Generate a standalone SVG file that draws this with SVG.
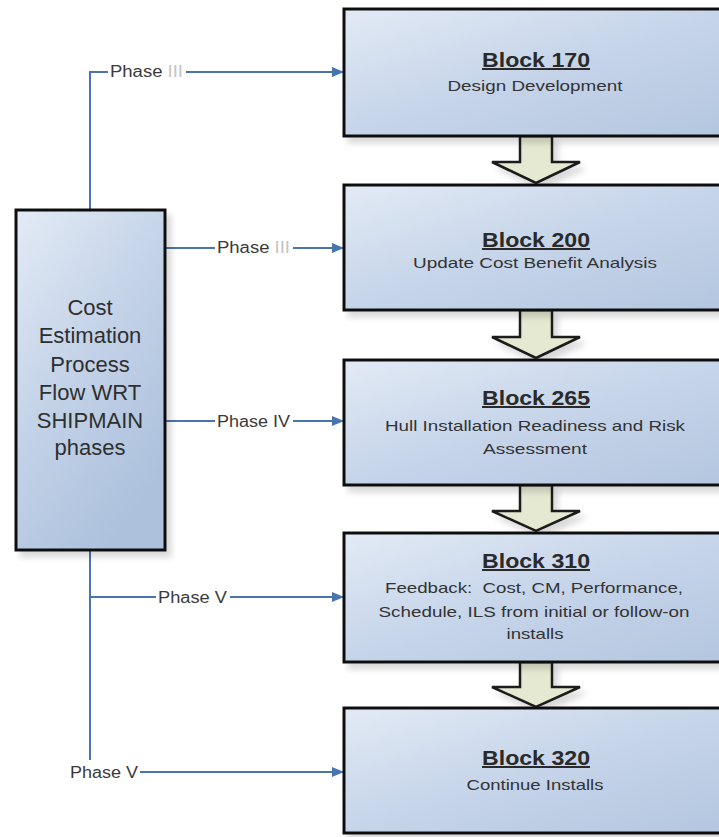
<svg xmlns="http://www.w3.org/2000/svg" width="719" height="837" viewBox="0 0 719 837">
<defs>
<linearGradient id="boxGrad" x1="0" y1="0" x2="1" y2="1">
<stop offset="0" stop-color="#e2eaf5"/>
<stop offset="0.5" stop-color="#c5d4e9"/>
<stop offset="1" stop-color="#b3c5df"/>
</linearGradient>
<linearGradient id="leftGrad" x1="0" y1="0" x2="0.6" y2="1">
<stop offset="0" stop-color="#e3ebf6"/>
<stop offset="0.5" stop-color="#c4d3e8"/>
<stop offset="1" stop-color="#adc1dd"/>
</linearGradient>
<filter id="shadow" x="-10%" y="-10%" width="130%" height="140%">
<feGaussianBlur in="SourceAlpha" stdDeviation="3"/>
<feOffset dx="5" dy="6" result="b"/>
<feComponentTransfer><feFuncA type="linear" slope="0.15"/></feComponentTransfer>
<feMerge><feMergeNode/><feMergeNode in="SourceGraphic"/></feMerge>
</filter>
<marker id="arr" viewBox="0 0 12 10" refX="12" refY="5" markerWidth="12" markerHeight="10" markerUnits="userSpaceOnUse" orient="auto">
<path d="M0,0 L12,5 L0,10 Z" fill="#4a74ad"/>
</marker>
</defs>
<style>
.box{fill:url(#boxGrad);stroke:#111;stroke-width:3;filter:url(#shadow)}
.lbox{fill:url(#leftGrad);stroke:#111;stroke-width:3;filter:url(#shadow)}
.title{font-family:"Liberation Sans",Arial,sans-serif;font-weight:bold;font-size:20px;fill:#2a2a2a;text-anchor:middle;text-decoration:underline}
.sub{font-family:"Liberation Sans",Arial,sans-serif;font-size:15px;fill:#333;text-anchor:middle}
.left{font-family:"Liberation Sans",Arial,sans-serif;font-size:22px;fill:#2f2f2f;text-anchor:middle}
.conn{fill:none;stroke:#4a74ad;stroke-width:2}
.lbl{font-family:"Liberation Sans",Arial,sans-serif;font-size:16px;fill:#3a3a3a}
.faint{fill:#c4c4c4}
.bg{fill:#ffffff}
.barrow{fill:#e6e9d2;stroke:#1a1a1a;stroke-width:2.5;stroke-linejoin:miter;filter:url(#shadow)}
</style>
<rect width="719" height="837" fill="#ffffff"/>

<g id="connectors">
<path class="conn" d="M90,210 V72 H344" marker-end="url(#arr)"/>
<path class="conn" d="M165,248 H344" marker-end="url(#arr)"/>
<path class="conn" d="M165,421 H344" marker-end="url(#arr)"/>
<path class="conn" d="M90,550 V760"/>
<path class="conn" d="M90,597 H344" marker-end="url(#arr)"/>
<path class="conn" d="M140,772 H344" marker-end="url(#arr)"/>
<rect class="bg" x="108" y="62" width="78" height="18"/>
<text class="lbl" x="110" y="77" textLength="73" lengthAdjust="spacingAndGlyphs">Phase <tspan class="faint">III</tspan></text>
<rect class="bg" x="215" y="238" width="78" height="18"/>
<text class="lbl" x="217" y="253" textLength="73" lengthAdjust="spacingAndGlyphs">Phase <tspan class="faint">III</tspan></text>
<rect class="bg" x="215" y="411" width="78" height="18"/>
<text class="lbl" x="217" y="427" textLength="73" lengthAdjust="spacingAndGlyphs">Phase IV</text>
<rect class="bg" x="156" y="587" width="74" height="18"/>
<text class="lbl" x="158" y="603" textLength="69" lengthAdjust="spacingAndGlyphs">Phase V</text>
<text class="lbl" x="70" y="778" textLength="68" lengthAdjust="spacingAndGlyphs">Phase V</text>
</g>

<g id="flow-arrows">
<path class="barrow" d="M520,136 V162 H492 L536,183 L580,162 H552 V136 Z"/>
<path class="barrow" d="M520,310 V337 H492 L536,358 L580,337 H552 V310 Z"/>
<path class="barrow" d="M520,485 V511 H492 L536,531 L580,511 H552 V485 Z"/>
<path class="barrow" d="M520,662 V687 H492 L536,707 L580,687 H552 V662 Z"/>
</g>

<g id="cost-estimation">
<rect class="lbox" x="16" y="210" width="149" height="340"/>
<text class="left" x="90" y="315">Cost</text>
<text class="left" x="90" y="343">Estimation</text>
<text class="left" x="90" y="372">Process</text>
<text class="left" x="90" y="400">Flow WRT</text>
<text class="left" x="90" y="428">SHIPMAIN</text>
<text class="left" x="90" y="455">phases</text>
</g>

<g id="block-170">
<rect class="box" x="344" y="9" width="400" height="127"/>
<text class="title" x="536" y="67" textLength="108" lengthAdjust="spacingAndGlyphs">Block 170</text>
<text class="sub" x="535" y="91" textLength="175" lengthAdjust="spacingAndGlyphs">Design Development</text>
</g>

<g id="block-200">
<rect class="box" x="344" y="185" width="400" height="125"/>
<text class="title" x="536" y="247" textLength="108" lengthAdjust="spacingAndGlyphs">Block 200</text>
<text class="sub" x="535" y="268" textLength="244" lengthAdjust="spacingAndGlyphs">Update Cost Benefit Analysis</text>
</g>

<g id="block-265">
<rect class="box" x="344" y="360" width="400" height="125"/>
<text class="title" x="536" y="405" textLength="108" lengthAdjust="spacingAndGlyphs">Block 265</text>
<text class="sub" x="535" y="431" textLength="300" lengthAdjust="spacingAndGlyphs">Hull Installation Readiness and Risk</text>
<text class="sub" x="535" y="454" textLength="104" lengthAdjust="spacingAndGlyphs">Assessment</text>
</g>

<g id="block-310">
<rect class="box" x="344" y="533" width="400" height="129"/>
<text class="title" x="536" y="568" textLength="108" lengthAdjust="spacingAndGlyphs">Block 310</text>
<text class="sub" x="534" y="593" textLength="298" lengthAdjust="spacingAndGlyphs">Feedback:&#160; Cost, CM, Performance,</text>
<text class="sub" x="534" y="617" textLength="311" lengthAdjust="spacingAndGlyphs">Schedule, ILS from initial or follow-on</text>
<text class="sub" x="535" y="639" textLength="57" lengthAdjust="spacingAndGlyphs">installs</text>
</g>

<g id="block-320">
<rect class="box" x="344" y="708" width="400" height="125"/>
<text class="title" x="536" y="765" textLength="108" lengthAdjust="spacingAndGlyphs">Block 320</text>
<text class="sub" x="535" y="790" textLength="137" lengthAdjust="spacingAndGlyphs">Continue Installs</text>
</g>
</svg>
